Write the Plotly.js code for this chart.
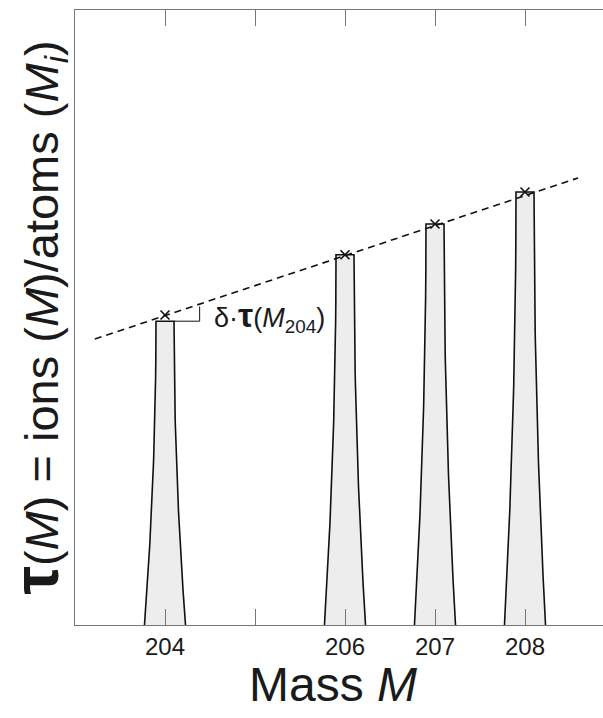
<!DOCTYPE html>
<html>
<head>
<meta charset="utf-8">
<script src="https://cdn.plot.ly/plotly-3.0.1.min.js"></script>
<style>
  html, body { margin: 0; padding: 0; background: #ffffff; overflow: hidden; }
  #frame { width: 603px; height: 718px; overflow: hidden; }
  #chart { width: 640px; height: 718px; }
</style>
</head>
<body>
<div id="frame"><div id="chart"></div></div>
<script>
// Isotope masses with a measured peak, and the axis ticks
const masses = [204, 206, 207, 208];
const tickValues = [204, 205, 206, 207, 208];
const labelValues = [204, 206, 207, 208];
const tickLabels = ['204', '206', '207', '208'];

// Measured peak heights tau(M) (arbitrary units)
const peakTau = [49.4, 60.2, 65.2, 70.4];

// Mass-bias trend evaluated at each mass (crosses on the dashed line)
const trendTau = [50.4, 60.2, 65.2, 70.4];

// End points of the dashed mass-bias line
const lineMass = [203.22, 208.59];
const lineTau = [46.5, 72.7];

// Flat-topped peak profile: half width at the top and at the base (mass units)
const TOP_HALF = 0.1;
const BASE_HALF = 0.228;
const EDGE_EXP = 0.5;
const N_EDGE = 60;

function peakOutline(m, h) {
  const xs = [], ys = [];
  for (let i = 0; i <= N_EDGE; i++) {          // left flank, base -> top
    const t = 1 - i / N_EDGE;
    xs.push(m - (TOP_HALF + t * (BASE_HALF - TOP_HALF)));
    ys.push(h * (1 - Math.pow(t, EDGE_EXP)));
  }
  for (let i = 0; i <= N_EDGE; i++) {          // right flank, top -> base
    const t = i / N_EDGE;
    xs.push(m + (TOP_HALF + t * (BASE_HALF - TOP_HALF)));
    ys.push(h * (1 - Math.pow(t, EDGE_EXP)));
  }
  return { xs, ys };
}

const traces = [];

masses.forEach((m, k) => {
  const o = peakOutline(m, peakTau[k]);
  traces.push({
    type: 'scatter', mode: 'lines',
    x: o.xs, y: o.ys,
    fill: 'toself', fillcolor: '#ededed',
    line: { color: '#111111', width: 1.6 },
    hoverinfo: 'skip', showlegend: false
  });
});

traces.push({
  type: 'scatter', mode: 'lines',
  x: lineMass, y: lineTau,
  line: { color: '#111111', width: 1.6, dash: '7px,5px' },
  hoverinfo: 'skip', showlegend: false
});

traces.push({
  type: 'scatter', mode: 'markers',
  x: masses, y: trendTau,
  marker: { symbol: 'x-thin-open', size: 9, color: '#111111', line: { color: '#111111', width: 1.6 } },
  hoverinfo: 'skip', showlegend: false
});

// Bracket showing the offset of the 204 peak below the trend
const bracketX = masses[0] + 0.385;
const bracketTop = peakTau[0] + 2.4;

const fontFamily = '"Liberation Sans", Arial, Helvetica, sans-serif';
const axisGrey = '#777777';

const layout = {
  width: 640, height: 718,
  margin: { l: 75, r: 0, t: 10, b: 93 },
  paper_bgcolor: '#ffffff', plot_bgcolor: '#ffffff',
  font: { family: fontFamily, color: '#1a1a1a' },
  showlegend: false,
  xaxis: {
    range: [203, 203 + 565 / 90],
    tickmode: 'array', tickvals: labelValues, ticktext: tickLabels,
    ticks: 'inside', ticklen: 16, tickwidth: 1, tickcolor: axisGrey,
    minor: { tickmode: 'array', tickvals: tickValues, ticks: 'inside', ticklen: 16, tickwidth: 1, tickcolor: axisGrey, showgrid: false },
    showline: true, linecolor: axisGrey, linewidth: 1,
    mirror: 'allticks', showgrid: false, zeroline: false,
    tickfont: { size: 24, color: '#1a1a1a' }
  },
  yaxis: {
    range: [0, 100],
    showticklabels: false, ticks: '',
    showline: true, linecolor: axisGrey, linewidth: 1,
    mirror: false, showgrid: false, zeroline: false,
    title: {
      text: '<b><span style="font-size:64px">τ</span></b>(<i>M</i>) = ions (<i>M</i>)/atoms (<i>M<sub>i</sub></i>)',
      font: { size: 47, color: '#1a1a1a' }, standoff: 18
    }
  },
  shapes: [
    { type: 'line', xref: 'x', yref: 'y',
      x0: masses[0] + TOP_HALF, x1: bracketX, y0: peakTau[0], y1: peakTau[0],
      line: { color: '#111111', width: 1 } },
    { type: 'line', xref: 'x', yref: 'y',
      x0: bracketX, x1: bracketX, y0: peakTau[0], y1: bracketTop,
      line: { color: '#111111', width: 1 } }
  ],
  annotations: [
    { xref: 'x', yref: 'y', x: masses[0] + 0.52, y: 50.1,
      xanchor: 'left', yanchor: 'middle', showarrow: false,
      text: 'δ·<b><span style="font-size:34px">τ</span></b>(<i>M</i><sub>204</sub>)',
      font: { size: 27, color: '#1a1a1a' } },
    // x-axis title, centred under the visible part of the frame
    { xref: 'x', yref: 'paper', x: 205.87, y: -0.097,
      xanchor: 'center', yanchor: 'middle', showarrow: false,
      text: 'Mass <i>M</i>',
      font: { size: 48, color: '#1a1a1a' } }
  ]
};

Plotly.newPlot('chart', traces, layout, { displayModeBar: false, staticPlot: true });
</script>
</body>
</html>
